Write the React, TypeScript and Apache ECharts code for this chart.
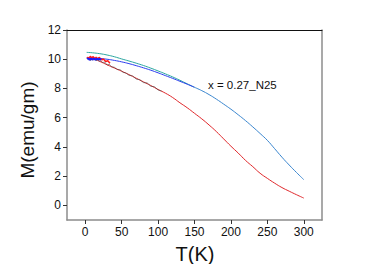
import React, { useEffect, useRef } from "react";
import * as echarts from "echarts";

const xTicks = [0, 50, 100, 150, 200, 250, 300];
const yTicks = [0, 2, 4, 6, 8, 10, 12];

const lowT = [2, 10, 20, 30, 40, 50, 60, 70, 80, 90, 100, 110, 120, 130, 140, 150];
const tealM = [10.47, 10.44, 10.38, 10.29, 10.17, 10.02, 9.88, 9.73, 9.57, 9.39, 9.2, 9.0, 8.79, 8.56, 8.32, 8.08];
const blueM = [10.08, 10.08, 10.05, 10.0, 9.92, 9.82, 9.7, 9.56, 9.41, 9.25, 9.07, 8.88, 8.69, 8.49, 8.29, 8.08];

const highT = [150, 160, 170, 180, 190, 200, 210, 220, 230, 240, 250, 260, 270, 280, 290, 300];
const mergedM = [8.08, 7.85, 7.58, 7.27, 6.93, 6.58, 6.2, 5.8, 5.37, 4.92, 4.45, 3.88, 3.3, 2.76, 2.25, 1.76];

const redT = [2, 10, 20, 30, 40, 50, 60, 70, 80, 90, 100, 110, 120, 130, 140, 150, 160, 170, 180, 190, 200, 210, 220, 230, 240, 250, 260, 270, 280, 290, 300];
const redM = [10.1, 10.05, 9.85, 9.62, 9.4, 9.18, 8.95, 8.7, 8.45, 8.2, 7.93, 7.68, 7.38, 7.02, 6.68, 6.3, 5.92, 5.5, 5.05, 4.55, 4.05, 3.58, 3.08, 2.65, 2.2, 1.85, 1.52, 1.22, 0.97, 0.73, 0.5];

const blackT = [3, 5, 7, 9, 11, 13, 15, 17, 19, 21, 24, 27, 30, 33, 36, 40, 44, 48, 52, 56, 60, 65, 70, 75, 80, 85, 90, 95, 100, 105];
const blackM = [9.95, 10.05, 9.9, 10.02, 9.93, 10.04, 9.88, 9.98, 9.86, 9.9, 9.78, 9.8, 9.6, 9.66, 9.48, 9.45, 9.3, 9.28, 9.1, 9.06, 8.9, 8.86, 8.64, 8.6, 8.4, 8.38, 8.15, 8.12, 7.9, 7.82];

const redNoiseT = [3, 5, 7, 9, 11, 13, 15, 17, 19, 21, 23, 25, 28, 31, 34];
const redNoiseM = [10.15, 10.05, 10.2, 10.08, 10.18, 10.02, 10.14, 10.0, 10.12, 10.05, 9.95, 10.02, 9.85, 9.9, 9.72];

const blueNoiseT = [3, 4, 6, 8, 10, 12, 14, 16, 18, 20, 22];
const blueNoiseM = [10.0, 10.06, 9.96, 10.04, 9.98, 10.05, 9.97, 10.03, 9.99, 10.02, 9.98];

const zip = (a: number[], b: number[]) => a.map((v, i) => [v, b[i]]);

const FONT = "Liberation Sans, Arial, sans-serif";

export default function App() {
  const ref = useRef<HTMLDivElement>(null);
  useEffect(() => {
    if (!ref.current) return;
    const chart = echarts.init(ref.current, null, { renderer: "svg" });
    const gray = "#8c8c8c";
    chart.setOption({
      animation: false,
      backgroundColor: "#ffffff",
      grid: { left: 67, top: 30, right: 52, bottom: 44 },
      xAxis: [
        {
          type: "value",
          min: -25,
          max: 325,
          splitLine: { show: false },
          axisLine: { show: true, onZero: false, lineStyle: { color: gray, width: 1.5 } },
          axisTick: { show: true, customValues: xTicks, length: 4, lineStyle: { color: "#333" } },
          axisLabel: { customValues: xTicks, color: "#111", fontSize: 12, fontFamily: FONT, margin: 6 },
        },
        {
          type: "value",
          position: "top",
          min: -25,
          max: 325,
          splitLine: { show: false },
          axisLine: { show: true, onZero: false, lineStyle: { color: "#111", width: 1 } },
          axisTick: { show: false },
          axisLabel: { show: false },
        },
      ],
      yAxis: [
        {
          type: "value",
          min: -1,
          max: 12,
          splitLine: { show: false },
          axisLine: { show: true, onZero: false, lineStyle: { color: gray, width: 1.5 } },
          axisTick: { show: true, customValues: yTicks, length: 4, lineStyle: { color: "#333" } },
          axisLabel: { customValues: yTicks, color: "#111", fontSize: 12, fontFamily: FONT, margin: 6 },
        },
        {
          type: "value",
          position: "right",
          min: -1,
          max: 12,
          splitLine: { show: false },
          axisLine: { show: true, onZero: false, lineStyle: { color: gray, width: 1.5 } },
          axisTick: { show: false },
          axisLabel: { show: false },
        },
      ],
      series: [
        {
          type: "line",
          data: zip(lowT, tealM),
          showSymbol: false,
          smooth: true,
          lineStyle: { color: "#2aa6a0", width: 1 },
        },
        {
          type: "line",
          data: zip(lowT, blueM),
          showSymbol: false,
          smooth: true,
          lineStyle: { color: "#2b3df0", width: 1 },
        },
        {
          type: "line",
          data: zip(highT, mergedM),
          showSymbol: false,
          smooth: true,
          lineStyle: { color: "#3a86cf", width: 1 },
        },
        {
          type: "line",
          data: zip(redT, redM),
          showSymbol: false,
          smooth: true,
          lineStyle: { color: "#e0262a", width: 1 },
        },
        {
          type: "line",
          data: zip(blackT, blackM),
          showSymbol: false,
          lineStyle: { color: "#444444", width: 0.7, opacity: 0.85 },
        },
        {
          type: "line",
          data: zip(redNoiseT, redNoiseM),
          showSymbol: false,
          lineStyle: { color: "#ff1a1a", width: 1.5 },
        },
        {
          type: "line",
          data: zip(blueNoiseT, blueNoiseM),
          showSymbol: false,
          lineStyle: { color: "#1a1aff", width: 2 },
        },
      ],
      graphic: [
        {
          type: "text",
          left: 208,
          top: 79,
          style: { text: "x = 0.27_N25", font: `11.5px ${FONT}`, fill: "#111" },
        },
        {
          type: "text",
          x: 27,
          y: 130,
          rotation: Math.PI / 2,
          style: {
            text: "M(emu/gm)",
            font: `19px ${FONT}`,
            fill: "#111",
            align: "center",
            verticalAlign: "middle",
          },
        },
        {
          type: "text",
          x: 195,
          y: 254,
          style: {
            text: "T(K)",
            font: `20px ${FONT}`,
            fill: "#111",
            align: "center",
            verticalAlign: "middle",
          },
        },
      ],
    });
    return () => chart.dispose();
  }, []);
  return <div ref={ref} style={{ width: 374, height: 264, position: "absolute", left: 0, top: 0 }} />;
}
